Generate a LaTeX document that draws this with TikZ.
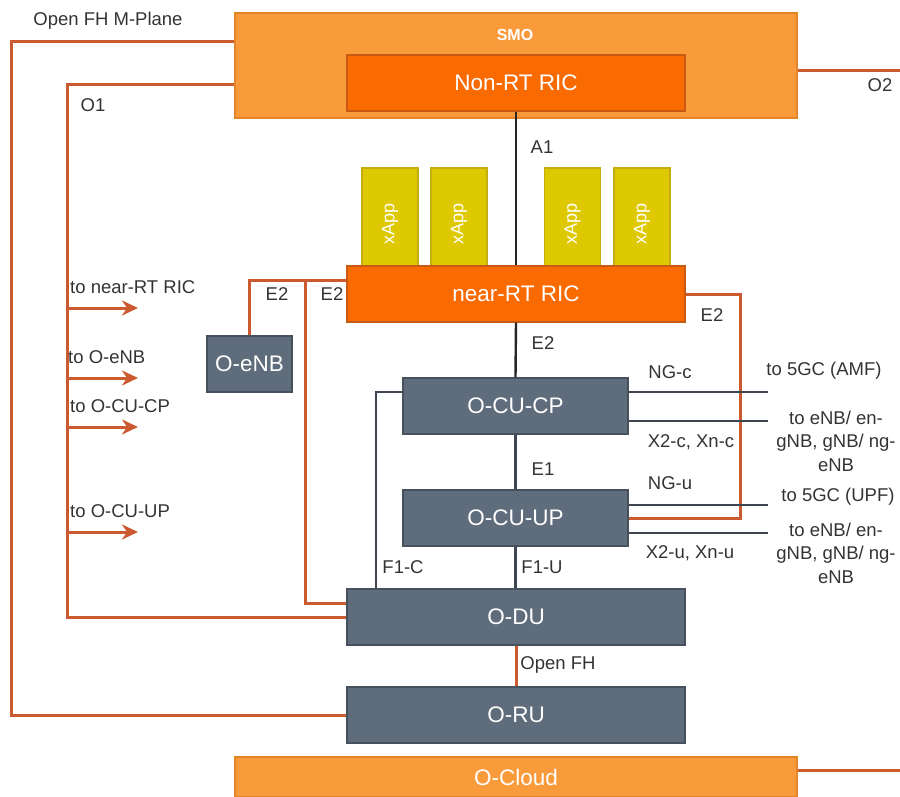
\documentclass[tikz,border=0pt]{standalone}
\usepackage{fontspec}
\setmainfont{Liberation Sans}
\usetikzlibrary{arrows.meta,calc}
\definecolor{smoC}{HTML}{F99B3B}
\definecolor{smoD}{HTML}{E38527}
\definecolor{ricC}{HTML}{F96A00}
\definecolor{ricD}{HTML}{C95A12}
\definecolor{appC}{HTML}{DEC800}
\definecolor{appD}{HTML}{C2AE10}
\definecolor{gbC}{HTML}{5F6C7C}
\definecolor{gbD}{HTML}{47515E}
\definecolor{oline}{HTML}{CC5A30}
\definecolor{txt}{HTML}{333333}
\begin{document}
\begin{tikzpicture}[x=1pt,y=-1pt,
 box/.style={draw, line width=1.2pt, inner sep=0pt, text=white, font=\fontsize{22.5}{26}\selectfont},
 smobox/.style={box, fill=smoC, draw=smoD},
 ricbox/.style={box, fill=ricC, draw=ricD},
 appbox/.style={box, fill=appC, draw=appD, font=\fontsize{18}{20}\selectfont, minimum width=56pt, minimum height=112pt},
 gbox/.style={box, fill=gbC, draw=gbD},
 lbl/.style={text=txt, font=\fontsize{18.5}{23.5}\selectfont, inner sep=0pt},
 ol/.style={draw=oline, line width=3pt},
 bl/.style={draw=black!85, line width=2.4pt},
 gl/.style={draw=gbD!85!black, line width=2.4pt},
 oarr/.style={ol, -{Stealth[length=16pt,width=15pt,inset=5pt]}},
]
\useasboundingbox (0,0) rectangle (900,796);

% boxes
\node[smobox, minimum width=562pt, minimum height=105pt] (smo) at (516,65.5) {};
\node[text=white, font=\bfseries\fontsize{16}{18}\selectfont, inner sep=0pt] (smolbl) at (515,35) {SMO};
\node[ricbox, minimum width=338pt, minimum height=56pt] (nonrt) at (516,83) {Non-RT RIC};
\node[appbox] (app1) at (390,224) {\rotatebox{90}{xApp}};
\node[appbox] (app2) at (459,224) {\rotatebox{90}{xApp}};
\node[appbox] (app3) at (572.5,224) {\rotatebox{90}{xApp}};
\node[appbox] (app4) at (642,224) {\rotatebox{90}{xApp}};
\node[ricbox, minimum width=338pt, minimum height=56pt] (nrt) at (516,294) {near-RT RIC};
\node[gbox, minimum width=85pt, minimum height=56pt] (oenb) at (249.5,364) {O-eNB};
\node[gbox, minimum width=225pt, minimum height=56pt] (ocucp) at (515.5,406) {O-CU-CP};
\node[gbox, minimum width=225pt, minimum height=56pt] (ocuup) at (515.5,518) {O-CU-UP};
\node[gbox, minimum width=338pt, minimum height=56pt] (odu) at (516,617) {O-DU};
\node[gbox, minimum width=338pt, minimum height=56pt] (oru) at (516,715) {O-RU};
\node[smobox, minimum width=562pt, minimum height=40pt] (ocloud) at (516,777) {O-Cloud};

% coordinates
\coordinate (mpx) at (11,715);
\coordinate (o1x) at (67,617);
\coordinate (o2end) at (900,70);
\coordinate (ocend) at (900,770);
\coordinate (e2c) at (305,280);
\coordinate (e2r) at (740,518);
\foreach \n/\y in {a/308,b/378,c/427,d/532}{
  \coordinate (s\n) at (67,\y);
  \coordinate (t\n) at (138,\y);
}
\coordinate (r1) at (768,392);
\coordinate (r2) at (768,421);
\coordinate (r3) at (768,505);
\coordinate (r4) at (768,533);

% orange connectors
\draw[ol] ([yshift=24pt]smo.west) -| (mpx) -- (oru.west);
\draw[ol] ([yshift=-18.5pt]smo.west) -| (o1x) -- (odu.west);
\draw[ol] ([yshift=-4.5pt]smo.east) -- (o2end);
\draw[ol] ([yshift=7pt]ocloud.east) -- (ocend);
\foreach \n in {a,b,c,d}{ \draw[oarr] (s\n) -- (t\n); }
\draw[ol] (oenb.north) |- ([yshift=14pt]nrt.west);
\draw[ol] (e2c) |- ([yshift=14pt]odu.west);
\draw[ol] (nrt.east) -| (e2r) -- (ocuup.east);
\draw[ol] (odu.south) -- (oru.north);

% dark connectors
\draw[bl] (nonrt.south) -- (nrt.north);
\draw[bl] (nrt.south) -- (ocucp.north);
\draw[gl] (ocucp.south) -- (ocuup.north);
\draw[gl] (ocuup.south) -- (ocuup.south |- odu.north);
\draw[gl] ([yshift=14pt]ocucp.west) -| ([xshift=-140pt]odu.north);
\draw[gl] ([yshift=14pt]ocucp.east) -- (r1);
\draw[gl] ([yshift=-15pt]ocucp.east) -- (r2);
\draw[gl] ([yshift=13pt]ocuup.east) -- (r3);
\draw[gl] ([yshift=-15pt]ocuup.east) -- (r4);

% labels
\node[lbl] (lmp) at (108,21) {Open FH M-Plane};
\node[lbl] (lo1) at (93,105) {O1};
\node[lbl] (lo2) at (880,85) {O2};
\node[lbl] (la1) at (542,147) {A1};
\node[lbl, anchor=west] (l1) at (70,287) {to near-RT RIC};
\node[lbl, anchor=west] (l2) at (68,357) {to O-eNB};
\node[lbl, anchor=west] (l3) at (70,406) {to O-CU-CP};
\node[lbl, anchor=west] (l4) at (70,511) {to O-CU-UP};
\node[lbl] (le2a) at (277,294) {E2};
\node[lbl] (le2b) at (332,294) {E2};
\node[lbl] (le2c) at (712,315) {E2};
\node[lbl] (le2d) at (543,343) {E2};
\node[lbl] (lngc) at (670,372) {NG-c};
\node[lbl] (lx2c) at (691,442) {X2-c, Xn-c};
\node[lbl] (le1) at (543,469) {E1};
\node[lbl] (lngu) at (670,483) {NG-u};
\node[lbl] (lx2u) at (690,553) {X2-u, Xn-u};
\node[lbl] (lamf) at (824,371) {to 5GC (AMF)};
\node[lbl, align=center] (lenb1) at (836,441) {to eNB/ en-\\gNB, gNB/ ng-\\eNB};
\node[lbl] (lupf) at (838,497) {to 5GC (UPF)};
\node[lbl, align=center] (lenb2) at (836,553) {to eNB/ en-\\gNB, gNB/ ng-\\eNB};
\node[lbl] (lf1c) at (403,567) {F1-C};
\node[lbl] (lf1u) at (542,567) {F1-U};
\node[lbl] (lofh) at (558,665) {Open FH};
\end{tikzpicture}
\end{document}
